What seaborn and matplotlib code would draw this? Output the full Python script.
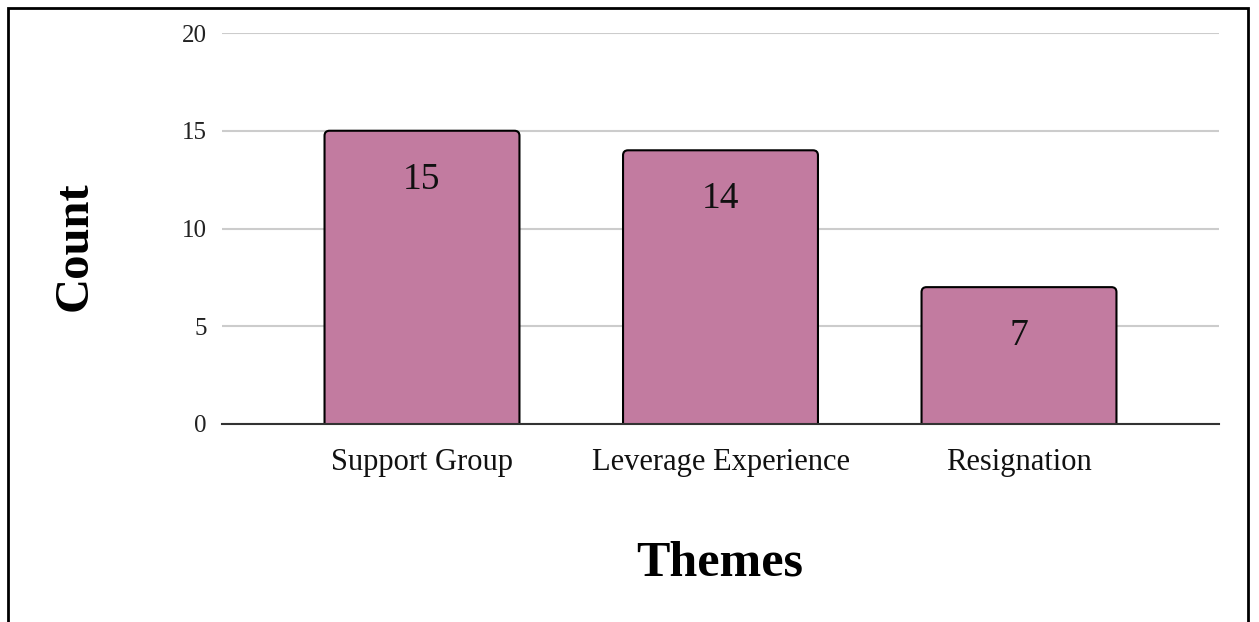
import matplotlib
matplotlib.use("Agg")
import matplotlib.pyplot as plt
import seaborn as sns
import pandas as pd
from matplotlib.patches import FancyBboxPatch, Rectangle

themes = ["Support Group", "Leverage Experience", "Resignation"]
counts = [15, 14, 7]
y_ticks = [0, 5, 10, 15, 20]

sns.set_theme(style="white")
plt.rcParams["font.family"] = ["Liberation Serif", "DejaVu Serif"]

df = pd.DataFrame({"Themes": themes, "Count": counts})

W, H = 1259, 622
fig = plt.figure(figsize=(W / 100, H / 100), dpi=100)
fig.patch.set_facecolor("white")
ax = fig.add_axes([222 / W, 1 - 424 / H, (1219 - 222) / W, (424 - 33) / H])

sns.barplot(data=df, x="Themes", y="Count", color="#C27BA0", saturation=1,
            width=0.653, edgecolor="black", linewidth=1.5, ax=ax, zorder=3)

ax.set_xlim(-0.67, 2.67)
ax.set_ylim(0, 20)

# rounded-top bars
px_x = (2.67 + 0.67) / (1219 - 222)
px_y = 20 / (424 - 33)
for p in list(ax.patches):
    x, y, w, h = p.get_x(), p.get_y(), p.get_width(), p.get_height()
    fb = FancyBboxPatch((x, y - 0.5), w, h + 0.5,
                        boxstyle=f"round,pad=0,rounding_size={5 * px_x}",
                        mutation_aspect=px_y / px_x,
                        facecolor=p.get_facecolor(), edgecolor="black",
                        linewidth=1.5, zorder=3)
    fb.set_clip_path(ax.patch)
    ax.add_patch(fb)
    p.remove()

for i, v in enumerate(counts):
    ax.annotate(str(v), (i, v), xytext=(0, -35), textcoords="offset points",
                ha="center", va="center", fontsize=27, color="#111111", zorder=5)

ax.set_yticks(y_ticks)
ax.set_yticklabels([str(t) for t in y_ticks], fontsize=18, color="#222222")
ax.tick_params(axis="y", length=0, pad=11)
ax.tick_params(axis="x", length=0, pad=17, labelsize=22, labelcolor="#111111")
ax.yaxis.grid(True, color="#cccccc", linewidth=1.5, zorder=0)
ax.xaxis.grid(False)
for s in ["top", "right", "left"]:
    ax.spines[s].set_visible(False)
ax.spines["bottom"].set_color("#333333")
ax.spines["bottom"].set_linewidth(1.5)
ax.spines["bottom"].set_zorder(4)
ax.set_xlabel("")
ax.set_ylabel("")

fig.text(75 / W, 1 - 246 / H, "Count", rotation=90, ha="center", va="center",
         fontsize=35, fontweight="bold", color="black")
fig.text(720 / W, 1 - 563 / H, "Themes", ha="center", va="center",
         fontsize=36, fontweight="bold", color="black")

fig.add_artist(Rectangle((8 / W, -0.05), (1248 - 8) / W, (1 - 8 / H) + 0.05,
                         transform=fig.transFigure, fill=False,
                         edgecolor="black", linewidth=2))

fig.savefig("out.png", dpi=100, facecolor="white")
